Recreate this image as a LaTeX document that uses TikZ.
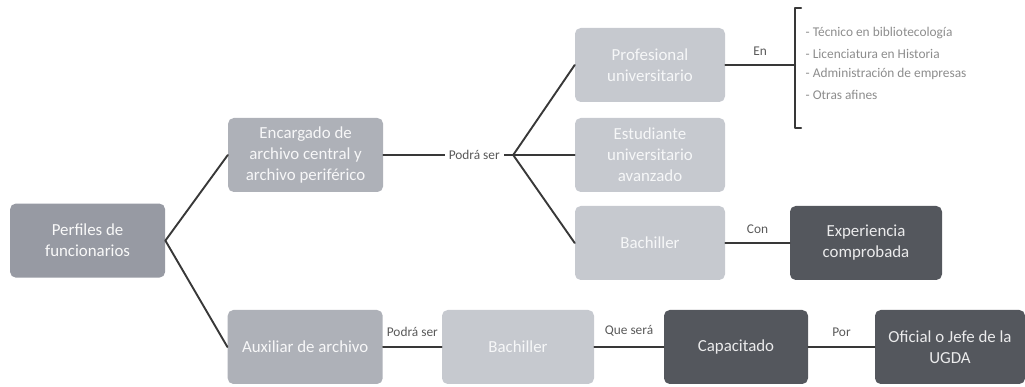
\documentclass[tikz,border=0pt]{standalone}
\usepackage{fontspec}
\setmainfont{Carlito}
\usetikzlibrary{calc}
\definecolor{grisA}{HTML}{979AA3}
\definecolor{grisB}{HTML}{AEB1B8}
\definecolor{grisC}{HTML}{C6C9CF}
\definecolor{grisD}{HTML}{54575D}

\begin{document}
\begin{tikzpicture}[line join=round, line cap=round,
	box/.style={rectangle, rounded corners=4pt, minimum width=3.8cm, minimum height=1.85cm, align=center, inner sep=2pt, font=\fontsize{12}{15}\selectfont},
	nivA/.style={box, fill=grisA, text=white!94!grisA},
	nivB/.style={box, fill=grisB, text=white!90!grisB},
	nivC/.style={box, fill=grisC, text=white!85!grisC},
	nivD/.style={box, fill=grisD, text=white!88!grisD},
	con/.style={draw=black!78, line width=1.35pt},
	lab/.style={font=\fontsize{9.5}{11}\selectfont, text=black!65, inner sep=1pt},
	item/.style={font=\fontsize{9.5}{11}\selectfont, text=black!45, anchor=west, inner sep=1pt}]
	\useasboundingbox (0,0) rectangle (25.625,9.675);
	% cajas
	\node[nivA, minimum width=3.875cm] (perf) at (2.19,3.66) {Perfiles de\\funcionarios};
	\node[nivB, minimum width=3.875cm] (enc) at (7.64,5.8) {Encargado de\\archivo central y\\archivo periférico};
	\node[nivB, minimum width=3.875cm] (aux) at (7.63,1.0) {Auxiliar de archivo};
	\node[nivC, minimum width=3.75cm] (prof) at (16.25,8.05) {Profesional\\universitario};
	\node[nivC, minimum width=3.75cm] (est) at (16.25,5.8) {Estudiante\\universitario\\avanzado};
	\node[nivC, minimum width=3.75cm] (bachA) at (16.25,3.6) {Bachiller};
	\node[nivD] (exp) at (21.65,3.6) {Experiencia\\comprobada};
	\node[nivC] (bachB) at (12.95,1.0) {Bachiller};
	\node[nivD, minimum width=3.6cm] (cap) at (18.4,1.0) {Capacitado};
	\node[nivD, minimum width=3.75cm] (ofi) at (23.75,1.0) {Oficial o Jefe de la\\UGDA};
	\coordinate (fork) at (12.83,5.8);
	\coordinate (brk) at (19.88,8.03);
	% conectores
	\draw[con] (perf.east) -- (enc.west);
	\draw[con] (perf.east) -- (aux.west);
	\draw[con] (enc.east) -- node[lab, fill=white, inner xsep=3pt, pos=0.7] {Podrá ser} (fork);
	\draw[con] (fork) -- (prof.west);
	\draw[con] (fork) -- (est.west);
	\draw[con] (fork) -- (bachA.west);
	\draw[con] (prof.east) -- node[lab, above=5pt] {En} (prof.east -| brk);
	\draw[con] ($(brk)+(0.15,1.45)$) -- ++(-0.15,0) -- ++(0,-3) -- ++(0.15,0);
	\foreach \t [count=\i] in {- Técnico en bibliotecología, - Licenciatura en Historia, - Administración de empresas, - Otras afines}
		\node[item] (it\i) at (20.1,{9.37-0.517*\i}) {\t};
	\draw[con] (bachA.east) -- node[lab, above=5pt] {Con} (exp.west);
	\draw[con] (aux.east) -- node[lab, above=6pt] {Podrá ser} (bachB.west);
	\draw[con] (bachB.east) -- node[lab, above=6pt] {Que será} (cap.west);
	\draw[con] (cap.east) -- node[lab, above=6pt] {Por} (ofi.west);
\end{tikzpicture}
\end{document}
